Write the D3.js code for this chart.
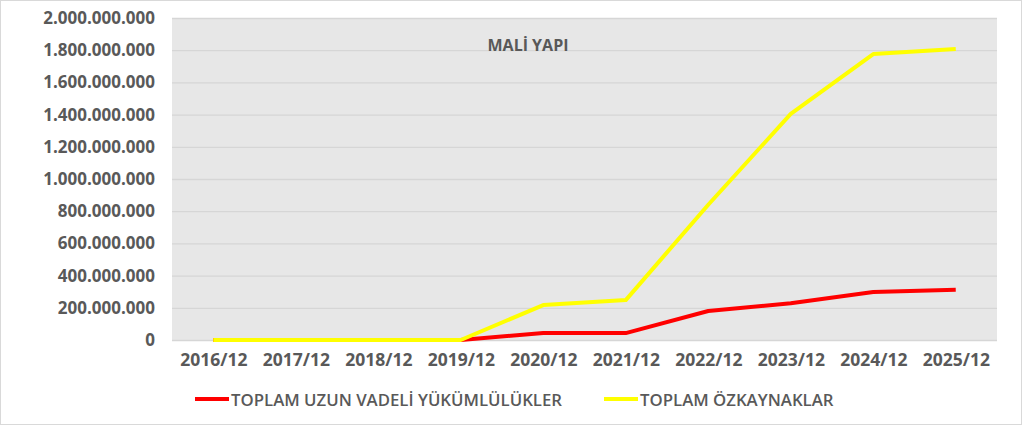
<!DOCTYPE html>
<html>
<head>
<meta charset="utf-8">
<script src="https://cdn.jsdelivr.net/npm/d3@7"></script>
<style>
  html, body { margin: 0; padding: 0; background: #fff; }
  svg { display: block; }
</style>
</head>
<body>
<svg id="chart"></svg>
<script>
// 1. Data
const periods = ["2016/12", "2017/12", "2018/12", "2019/12", "2020/12",
  "2021/12", "2022/12", "2023/12", "2024/12", "2025/12"];
const uzunVadeli = [0, 0, 0, 0, 43000000, 43000000, 180000000, 228000000, 298000000, 312000000];
const ozkaynaklar = [0, 0, 0, 0, 217000000, 248000000, 840000000, 1404000000, 1776000000, 1807000000];
const yTicks = [0, 200000000, 400000000, 600000000, 800000000, 1000000000,
  1200000000, 1400000000, 1600000000, 1800000000, 2000000000];
const seriesNames = ["TOPLAM UZUN VADELİ YÜKÜMLÜLÜKLER", "TOPLAM ÖZKAYNAKLAR"];
const seriesColors = ["#ff0000", "#ffff00"];
const chartTitle = "MALİ YAPI";

// 2. SVG setup
const W = 1024, H = 426;
const svg = d3.select("#chart").attr("width", W).attr("height", H);
const margin = { top: 18, right: 27, bottom: 86, left: 172 };
const width = W - margin.left - margin.right;
const height = H - margin.top - margin.bottom;
const font = "'Open Sans', 'Noto Sans', sans-serif";
const textColor = "#595959";

// outer frame
svg.append("rect")
  .attr("x", 0.5).attr("y", 0.5)
  .attr("width", 1021).attr("height", 424)
  .attr("fill", "#fff")
  .attr("stroke", "#d9d9d9");

const g = svg.append("g").attr("transform", `translate(${margin.left},${margin.top})`);

// 3. Scales
const x = d3.scalePoint().domain(periods).range([0, width]).padding(0.5);
const y = d3.scaleLinear().domain([0, 2000000000]).range([height, 0]);

// plot background
g.append("rect")
  .attr("width", width).attr("height", height)
  .attr("fill", "#e7e7e7");

// gridlines
g.append("g")
  .call(d3.axisLeft(y).tickValues(yTicks).tickSize(-width).tickFormat(""))
  .call((a) => a.select(".domain").remove())
  .call((a) => a.selectAll("line").attr("stroke", "#d6d6d6").attr("stroke-width", 1.3));

// y axis labels
const fmt = (v) => d3.format(",")(v).replace(/,/g, ".");
g.append("g")
  .call(d3.axisLeft(y).tickValues(yTicks).tickSize(0).tickPadding(17).tickFormat(fmt))
  .call((a) => a.select(".domain").remove())
  .call((a) => a.selectAll("text")
    .attr("font-family", font).attr("font-size", "17px")
    .attr("font-weight", "bold").attr("fill", textColor));

// x axis labels
g.append("g")
  .attr("transform", `translate(0,${height})`)
  .call(d3.axisBottom(x).tickSize(0).tickPadding(14))
  .call((a) => a.select(".domain").remove())
  .call((a) => a.selectAll("text")
    .attr("font-family", font).attr("font-size", "17.5px")
    .attr("font-weight", "bold").attr("fill", textColor));

// title
g.append("text")
  .attr("x", 528 - margin.left)
  .attr("y", 51 - margin.top)
  .attr("text-anchor", "middle")
  .attr("font-family", font).attr("font-size", "16px")
  .attr("font-weight", "bold").attr("fill", textColor)
  .text(chartTitle);

// 4. Lines
const line = d3.line().x((d, i) => x(periods[i])).y((d) => y(d));
[uzunVadeli, ozkaynaklar].forEach((vals, i) => {
  g.append("path")
    .datum(vals)
    .attr("fill", "none")
    .attr("stroke", seriesColors[i])
    .attr("stroke-width", 4)
    .attr("stroke-linejoin", "round")
    .attr("d", line);
});

// 5. Legend
const legendX = [195, 604];
seriesNames.forEach((name, i) => {
  const lg = svg.append("g").attr("transform", `translate(${legendX[i]},399)`);
  lg.append("line")
    .attr("x1", 0).attr("x2", 34)
    .attr("stroke", seriesColors[i]).attr("stroke-width", 4);
  lg.append("text")
    .attr("x", 36).attr("y", 6.5)
    .attr("font-family", font).attr("font-size", "16.8px")
    .attr("font-weight", 600).attr("fill", textColor)
    .text(name);
});
</script>
</body>
</html>
